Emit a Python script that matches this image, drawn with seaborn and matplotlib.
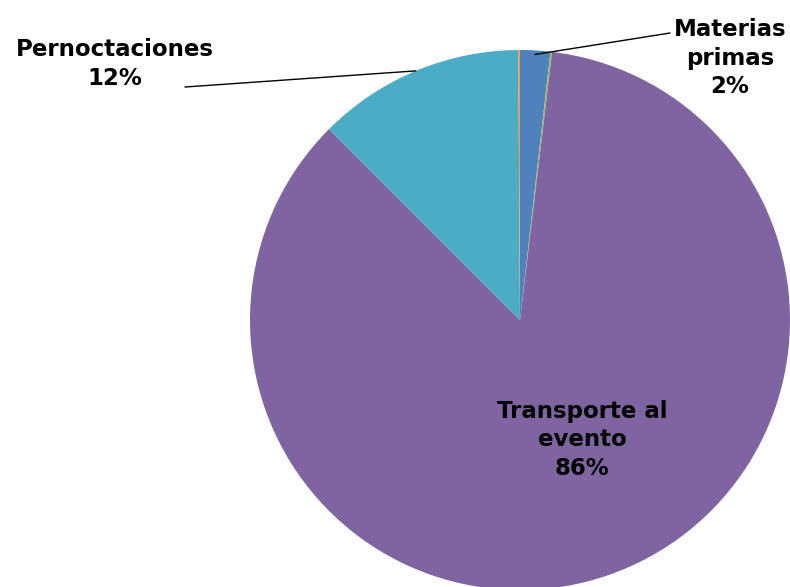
import numpy as np
import matplotlib
matplotlib.use('Agg')
import matplotlib.pyplot as plt
import seaborn as sns

# datos (porcentaje de emisiones por fuente)
labels = ['Materias primas', 'Otros 1', 'Transporte al evento', 'Pernoctaciones', 'Otros 2']
values = [1.8, 0.1, 85.6, 12.4, 0.1]
colors = ['#4F81BD', '#9BBB59', '#8064A2', '#4BACC6', '#F79646']
shown = {0: 'Materias\nprimas\n2%', 2: 'Transporte al\nevento\n86%', 3: 'Pernoctaciones\n12%'}

sns.set_theme(style='white')
plt.rcParams['font.family'] = ['DejaVu Sans']

W, H = 790, 587
fig = plt.figure(figsize=(W / 100, H / 100), dpi=100)
ax = fig.add_axes([0, 0, 1, 1])

cx, cy, R = 520, H - 320, 270
wedges, _ = ax.pie(values, colors=colors, startangle=90, counterclock=False,
                   center=(cx, cy), radius=R, frame=True,
                   wedgeprops=dict(linewidth=0))
ax.set_xlim(0, W)
ax.set_ylim(0, H)
ax.set_aspect('equal')
ax.axis('off')

txt = dict(fontsize=16.5, fontweight='bold', color='black', ha='center', va='center',
           linespacing=1.3)

# etiqueta interna
ax.text(582, H - 440, shown[2], **txt)

# etiquetas externas con línea guía
outer = {0: ((730, H - 58), (670, H - 33), 0.985), 3: ((115, H - 64), (185, H - 87), 1.0)}
for i, ((tx, ty), (lx, ly), rr) in outer.items():
    w = wedges[i]
    ang = np.deg2rad((w.theta1 + w.theta2) / 2)
    sx, sy = cx + rr * R * np.cos(ang), cy + rr * R * np.sin(ang)
    ax.plot([sx, lx], [sy, ly], color='black', linewidth=1)
    ax.text(tx, ty, shown[i], **txt)

fig.savefig('out.png', dpi=100)
